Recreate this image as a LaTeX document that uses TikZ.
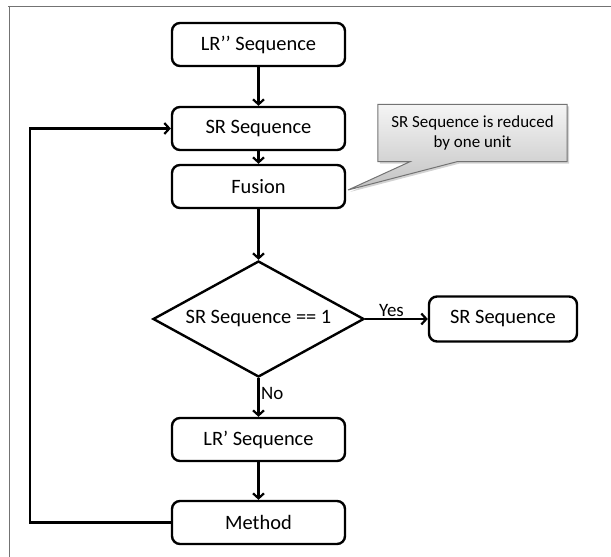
\documentclass[tikz,border=0pt]{standalone}
\usepackage{fontspec}
\setmainfont{Carlito}
\usetikzlibrary{shapes.geometric,arrows.meta,backgrounds,shadows,positioning}

\begin{document}
\begin{tikzpicture}[x=1bp,y=-1bp,
  box/.style={draw, line width=2.4bp, rounded corners=8bp, minimum width=173bp,
    minimum height=43bp, inner sep=0pt, font=\fontsize{20.5}{24}\selectfont},
  decision/.style={draw, line width=2.4bp, shape=diamond, aspect=1.82,
    minimum width=211bp, minimum height=116bp, inner sep=0pt,
    font=\fontsize{20.5}{24}\selectfont},
  flow/.style={line width=2.2bp, -{Straight Barb[length=5bp,width=11bp,line width=2.2bp]}},
  lbl/.style={font=\fontsize{19}{22}\selectfont, inner sep=1.5bp},
  frame/.style={draw=black!55, line width=1.6bp}
]
\useasboundingbox (0,0) rectangle (611,557);

% outer frame (top and left edges only)
\draw[frame] (8,6.5) -- (611,6.5);
\draw[frame] (9.5,6) -- (9.5,557);

% main column
\node[box] (lrpp)   at (258.5,44.5)  {LR’’ Sequence};
\node[box] (sr)     at (258.5,128.5) {SR Sequence};
\node[box] (fusion) at (258.5,186.5) {Fusion};
\node[decision] (test) at (258.5,319) {SR Sequence == 1};
\node[box, minimum width=148bp, minimum height=45bp] (srout) at (503,319) {SR Sequence};
\node[box] (lrp)    at (258.5,439.5) {LR’ Sequence};
\node[box] (method) at (258.5,522.5) {Method};

% callout note
\node[font=\fontsize{17}{19.5}\selectfont, align=center, minimum width=189bp,
  minimum height=57bp, inner sep=0pt] (note) at (472.5,133)
  {SR Sequence is reduced\\by one unit};
\coordinate (tip) at (348,190);
\begin{pgfonlayer}{background}
  \path[draw=black!55, line width=1bp, top color=black!4, bottom color=black!24,
        drop shadow={shadow xshift=2bp, shadow yshift=-2bp, opacity=0.35}]
    (note.north west) -- (note.north east) -- (note.south east)
    -- ([xshift=-15.5bp]note.south) -- (tip) -- ([xshift=-62.5bp]note.south)
    -- (note.south west) -- cycle;
\end{pgfonlayer}

% connectors
\draw[flow] (lrpp) -- (sr);
\draw[flow] (sr) -- (fusion);
\draw[flow] (fusion) -- (test);
\draw[flow] (test.east) -- node[lbl, above, pos=0.42] {Yes} (srout.west);
\draw[flow] (test.south) -- node[lbl, right, pos=0.4] {No} (lrp.north);
\draw[flow] (lrp) -- (method);
\coordinate (loop) at (30,522.5);
\draw[flow] (method.west) -- (loop) |- (sr.west);
\end{tikzpicture}
\end{document}
